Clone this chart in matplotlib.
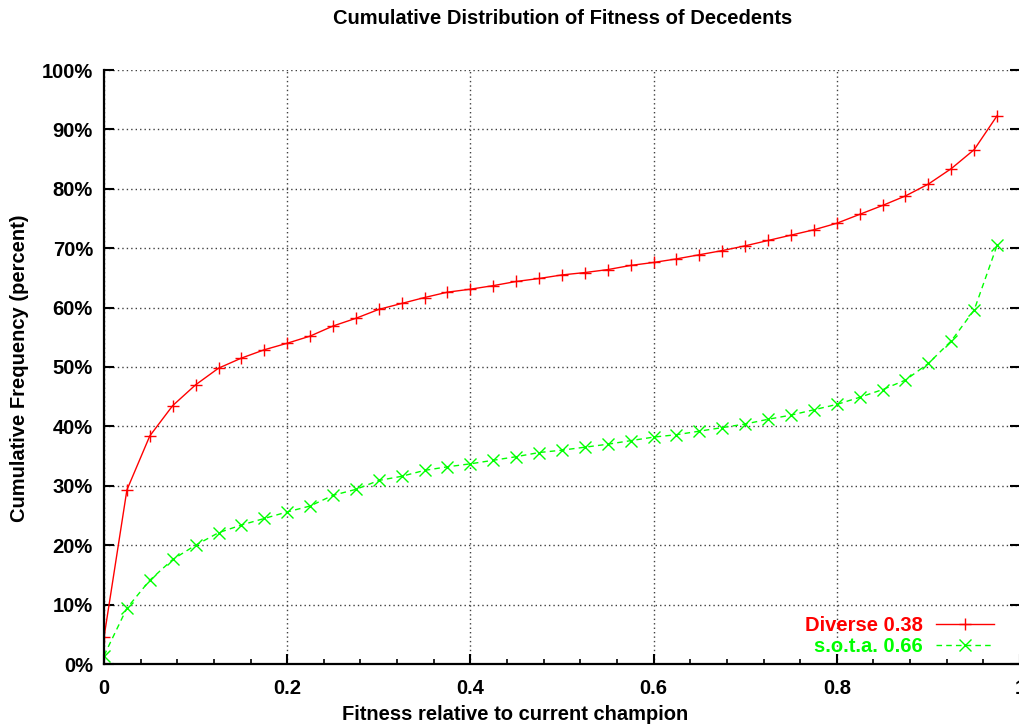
import numpy as np
import matplotlib
matplotlib.use("Agg")
import matplotlib.pyplot as plt
from matplotlib.ticker import MultipleLocator, FuncFormatter

plt.rcParams['font.family'] = ['Liberation Sans', 'DejaVu Sans']
plt.rcParams['font.weight'] = 'bold'

# ─── data ─────────────────────────────────────────────────────────────────────
fitness = np.arange(40) * 0.025   # 0, 0.025, ..., 0.975

diverse = [4.5, 29.3, 38.4, 43.5, 47.0, 49.8, 51.5, 52.9, 54.0, 55.2,
           56.9, 58.2, 59.7, 60.7, 61.7, 62.6, 63.1, 63.7, 64.4, 64.9,
           65.5, 65.9, 66.4, 67.1, 67.6, 68.2, 68.9, 69.6, 70.4, 71.3,
           72.2, 73.1, 74.2, 75.7, 77.2, 78.8, 80.8, 83.4, 86.6, 92.3]

sota = [1.4, 9.4, 14.1, 17.6, 20.0, 22.1, 23.4, 24.5, 25.6, 26.6,
        28.4, 29.4, 30.9, 31.6, 32.6, 33.2, 33.7, 34.3, 34.9, 35.6,
        36.0, 36.5, 37.0, 37.6, 38.2, 38.6, 39.2, 39.8, 40.4, 41.2,
        41.9, 42.8, 43.7, 44.9, 46.2, 47.8, 50.6, 54.4, 59.6, 70.5]

label_diverse = 'Diverse 0.38'
label_sota = 's.o.t.a. 0.66'

RED = '#ff0000'
GREEN = '#00ff00'
FS = 14.5

# ─── plot ─────────────────────────────────────────────────────────────────────
fig = plt.figure(figsize=(10.19, 7.27), dpi=100)
ax = fig.add_axes([104 / 1019, 1 - 664 / 727, 916 / 1019, 594 / 727])

ax.plot(fitness, diverse, color=RED, lw=1.0, marker='+', ms=8, mew=1.0,
        label=label_diverse)
ax.plot(fitness, sota, color=GREEN, lw=1.0, ls=(0, (4, 3)), marker='x',
        ms=8, mew=1.0, label=label_sota)

ax.set_xlim(0, 1)
ax.set_ylim(0, 100)
ax.xaxis.set_major_locator(MultipleLocator(0.2))
ax.xaxis.set_minor_locator(MultipleLocator(0.04))
ax.yaxis.set_major_locator(MultipleLocator(10))
ax.xaxis.set_major_formatter(FuncFormatter(lambda v, p: '0' if v == 0 else ('1' if abs(v - 1) < 1e-9 else f'{v:.1f}')))
ax.yaxis.set_major_formatter(FuncFormatter(lambda v, p: f'{int(round(v))}%'))

ax.grid(True, which='major', color='0.25', lw=1.0, ls=(0, (1, 2.2)))
for s in ('top', 'right'):
    ax.spines[s].set_visible(False)
for s in ('left', 'bottom'):
    ax.spines[s].set_linewidth(1.6)

ax.tick_params(axis='both', which='major', direction='in', length=7, width=1.5,
               labelsize=FS)
ax.tick_params(axis='x', which='major', pad=11)
ax.tick_params(axis='y', which='major', pad=8, right=True)
ax.tick_params(axis='x', which='minor', direction='in', length=3.5, width=1.2)
for lab in ax.get_xticklabels() + ax.get_yticklabels():
    lab.set_fontweight('bold')

leg = ax.legend(loc='lower right', bbox_to_anchor=(0.983, -0.004),
                markerfirst=False, frameon=False, borderpad=0,
                handlelength=2.9, handletextpad=0.65, labelspacing=0.12,
                prop={'size': FS, 'weight': 'bold'}, labelcolor='linecolor')

fig.text(563 / 1019, 1 - 19 / 727, 'Cumulative Distribution of Fitness of Decedents',
         ha='center', va='center', fontsize=FS, fontweight='bold')
fig.text(515 / 1019, 1 - 715 / 727, 'Fitness relative to current champion',
         ha='center', va='center', fontsize=FS, fontweight='bold')
fig.text(20 / 1019, 1 - 368 / 727, 'Cumulative Frequency (percent)',
         ha='center', va='center', rotation=90, fontsize=FS, fontweight='bold')

fig.savefig('out.png', dpi=100)
